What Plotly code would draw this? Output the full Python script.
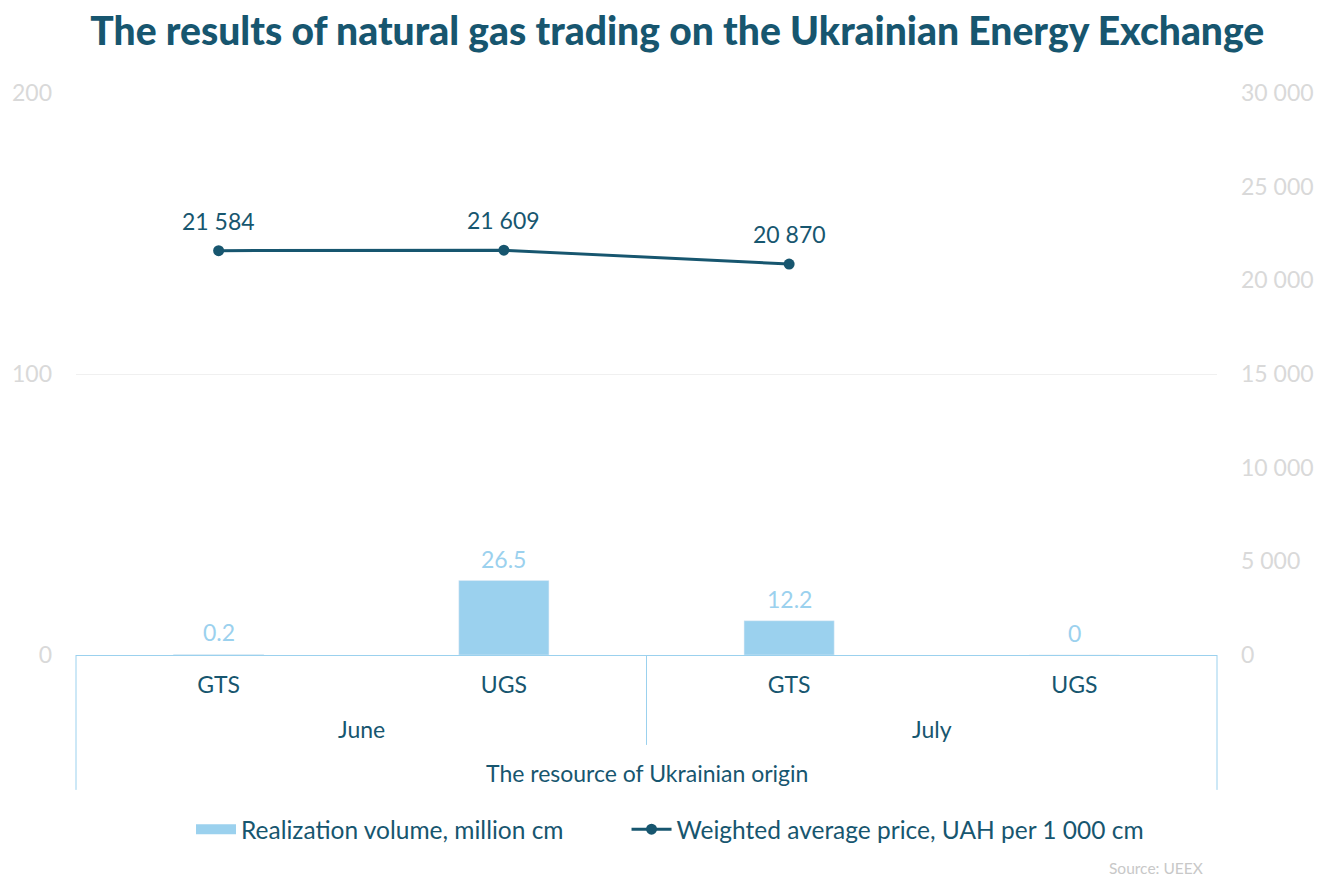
import plotly.graph_objects as go

MONTHS = ["June", "June", "July", "July"]
ROUTES = ["GTS", "UGS", "GTS", "UGS"]
ORIGIN = "The resource of Ukrainian origin"
VOLUME = [0.2, 26.5, 12.2, 0]
PRICE = [21584, 21609, 20870, None]

DARK_BLUE = "#17566f"
LIGHT_BLUE = "#9bd1ee"
AXIS_GREY = "#d9d9d9"
GRID_COLOR = "#f0f0f0"
FONT = "Lato"
LABEL_SIZE = 23

x_pos = list(range(len(ROUTES)))

fig = go.Figure()

fig.add_trace(
    go.Bar(
        x=x_pos,
        y=VOLUME,
        name="Realization volume, million cm",
        marker=dict(color=LIGHT_BLUE),
        width=0.316,
        showlegend=False,
    )
)

# legend proxy so the bar swatch is a wide block like the original
fig.add_trace(
    go.Scatter(
        x=[None],
        y=[None],
        mode="lines",
        name="Realization volume, million cm",
        line=dict(color=LIGHT_BLUE, width=16),
        legend="legend",
    )
)

fig.add_trace(
    go.Scatter(
        x=x_pos,
        y=PRICE,
        yaxis="y2",
        name="Weighted average price, UAH per 1 000 cm",
        mode="lines+markers",
        line=dict(color=DARK_BLUE, width=3),
        marker=dict(color=DARK_BLUE, size=11),
        legend="legend2",
    )
)

# data labels, placed on the data through the axes and nudged up
for x, v in zip(x_pos, VOLUME):
    fig.add_annotation(
        x=x, y=v, xref="x", yref="y",
        text=f"{v:g}",
        showarrow=False,
        yanchor="middle",
        yshift=22,
        font=dict(size=LABEL_SIZE, color=LIGHT_BLUE),
    )
for x, p in zip(x_pos, PRICE):
    if p is None:
        continue
    fig.add_annotation(
        x=x, y=p, xref="x", yref="y2",
        text=f"{p:,}".replace(",", " "),
        showarrow=False,
        yanchor="middle",
        yshift=30,
        font=dict(size=LABEL_SIZE, color=DARK_BLUE),
    )

legend_style = dict(
    orientation="h",
    xanchor="left",
    y=-0.31,
    yanchor="middle",
    font=dict(size=24.5, color=DARK_BLUE),
    itemwidth=40,
    bgcolor="rgba(0,0,0,0)",
)

fig.update_layout(
    width=1328,
    height=885,
    separators=". ",
    plot_bgcolor="white",
    paper_bgcolor="white",
    font=dict(family=FONT, size=LABEL_SIZE, color=DARK_BLUE),
    margin=dict(l=68, r=119, t=85, b=238),
    title=dict(
        text="The results of natural gas trading on the Ukrainian Energy Exchange",
        x=0.504,
        xanchor="center",
        y=0.974,
        yanchor="middle",
        font=dict(family=FONT, size=39, color=DARK_BLUE, weight=900),
    ),
    xaxis=dict(
        range=[-0.5, len(ROUTES) - 0.5],
        tickvals=x_pos,
        ticktext=ROUTES,
        showline=True,
        linecolor=LIGHT_BLUE,
        linewidth=1,
        showgrid=False,
        zeroline=False,
        ticks="",
        ticklabelstandoff=9,
        automargin=False,
        tickfont=dict(size=LABEL_SIZE, color=DARK_BLUE),
    ),
    yaxis=dict(
        range=[0, 200],
        tickvals=[0, 100, 200],
        gridcolor=GRID_COLOR,
        zeroline=False,
        automargin=False,
        tickfont=dict(size=LABEL_SIZE, color=AXIS_GREY),
        ticklabelstandoff=23,
    ),
    yaxis2=dict(
        overlaying="y",
        side="right",
        range=[0, 30000],
        dtick=5000,
        showgrid=False,
        zeroline=False,
        automargin=False,
        separatethousands=True,
        tickformat=",d",
        tickfont=dict(size=LABEL_SIZE, color=AXIS_GREY),
        ticklabelstandoff=23,
    ),
    showlegend=True,
    legend=dict(x=0.1008, **legend_style),
    legend2=dict(x=0.4825, **legend_style),
)

# month level labels and dividers between month groups
for month in dict.fromkeys(MONTHS):
    idx = [i for i, m in enumerate(MONTHS) if m == month]
    fig.add_annotation(
        text=month,
        xref="x",
        yref="paper",
        x=sum(idx) / len(idx),
        y=-0.1317,
        xanchor="center",
        yanchor="middle",
        showarrow=False,
        font=dict(size=LABEL_SIZE, color=DARK_BLUE),
    )
for i in range(1, len(MONTHS)):
    if MONTHS[i] != MONTHS[i - 1]:
        fig.add_shape(
            type="line",
            xref="x",
            yref="paper",
            x0=i - 0.5,
            x1=i - 0.5,
            y0=0,
            y1=-0.16,
            line=dict(color=LIGHT_BLUE, width=1),
        )

# top level label and the outer frame of the category box
fig.add_annotation(
    text=ORIGIN,
    xref="paper",
    yref="paper",
    x=0.5,
    y=-0.21,
    xanchor="center",
    yanchor="middle",
    showarrow=False,
    font=dict(size=LABEL_SIZE, color=DARK_BLUE),
)
for xp in [0, 1]:
    fig.add_shape(
        type="line",
        xref="paper",
        yref="paper",
        x0=xp,
        x1=xp,
        y0=0,
        y1=-0.24,
        line=dict(color=LIGHT_BLUE, width=1),
    )

fig.add_annotation(
    text="Source: UEEX",
    xref="paper",
    yref="paper",
    x=0.9895,
    y=-0.379,
    xanchor="right",
    yanchor="middle",
    showarrow=False,
    font=dict(size=15.5, color="#c8c8c8"),
)

fig.write_html("out.html")
